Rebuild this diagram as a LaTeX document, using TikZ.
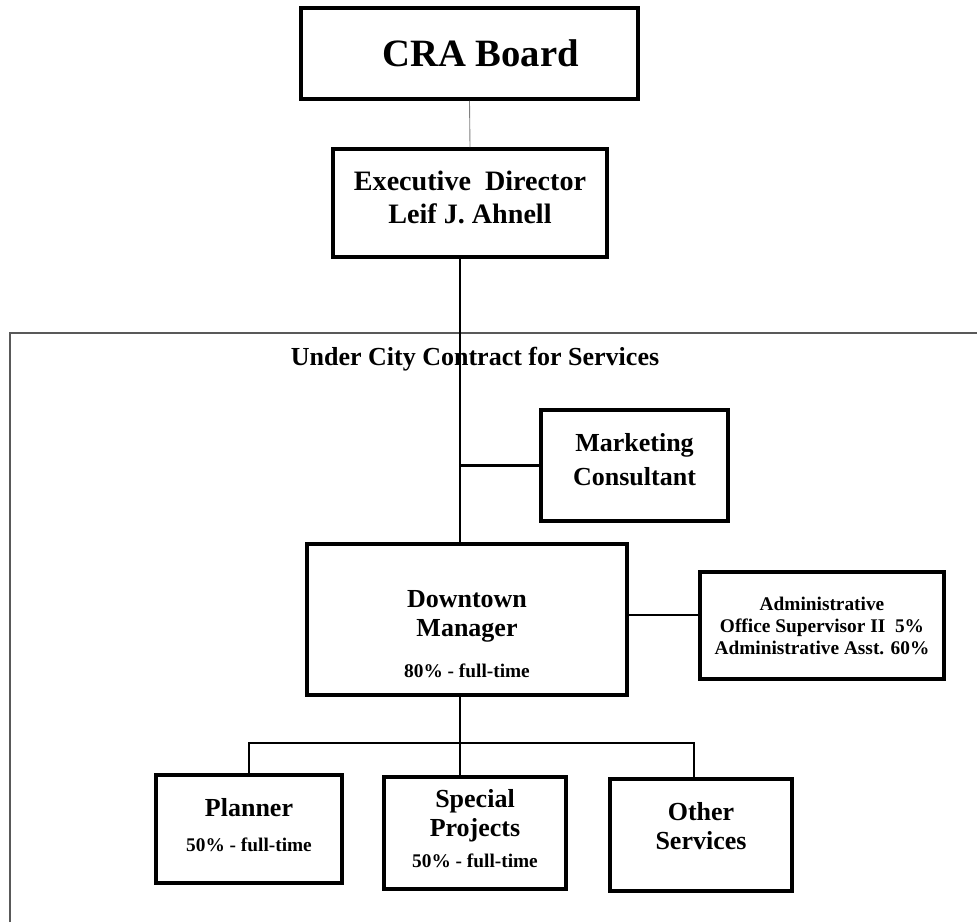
\documentclass[tikz,border=0pt]{standalone}
\usepackage{fontspec}
\setmainfont{Liberation Serif}
\usepackage{tikz}
\usetikzlibrary{positioning, calc}

\newcommand{\share}[1]{{\fontsize{11}{12.5}\selectfont #1}}

\tikzset{
  orgbox/.style={draw, line width=2pt, align=center, inner sep=0pt, font=\fontsize{14.8}{16.5}\selectfont\bfseries},
  link/.style={line width=1.2pt},
}

\begin{document}
\begin{tikzpicture}
  \useasboundingbox (0,0) rectangle (19.54,-18.44);

  % Board and director
  \node[orgbox, minimum width=6.74cm, minimum height=1.82cm, font=\fontsize{22}{24}\selectfont\bfseries] (board) at (9.39,-1.07) {\hspace{0.45cm}CRA Board};
  \node[orgbox, minimum width=5.48cm, minimum height=2.16cm, font=\fontsize{16}{18.8}\selectfont\bfseries] (exec) at (9.40,-4.06) {Executive\ \ Director\\Leif J. Ahnell\\[-12pt]\mbox{}};
  \draw[gray, line width=0.5pt] (board.south) -- (exec.north);

  % City contract frame
  \draw[gray!70!black, line width=0.7pt] (0.2,-18.44) -- (0.2,-6.66) -- (19.54,-6.66);
  \node[font=\fontsize{14.8}{16.5}\selectfont\bfseries] (contract) at (9.5,-7.18) {Under City Contract for Services};
  \coordinate (trunk) at (9.2,-6.66);

  % Staff
  \node[orgbox, minimum width=3.74cm, minimum height=2.22cm] (mkt) at (12.69,-9.31) {Marketing\\[3pt]Consultant\\[-10pt]\mbox{}};
  \node[orgbox, minimum width=6.40cm, minimum height=3.02cm] (dm) at (9.34,-12.39) {\mbox{}\\[9.5pt]Downtown\\Manager\\[7pt]\share{80\% - full-time}};
  \node[orgbox, minimum width=4.88cm, minimum height=2.14cm, font=\fontsize{11}{12.5}\selectfont\bfseries] (admin) at (16.44,-12.51) {Administrative\\Office Supervisor II\ \ 5\%\\Administrative Asst. 60\%};

  \draw[link] (exec.south -| trunk) -- (dm.north -| trunk);
  \draw[link] (mkt.west -| trunk) -- (mkt.west);
  \draw[link] ($(dm.east)+(0,0.09)$) -- ($(dm.east -| admin.west)+(0,0.09)$);

  % Services
  \node[orgbox, minimum width=3.72cm, minimum height=2.16cm] (planner) at (4.98,-16.58) {Planner\\[3pt]\share{50\% - full-time}\\[-12pt]\mbox{}};
  \node[orgbox, minimum width=3.64cm, minimum height=2.24cm] (special) at (9.50,-16.66) {Special\\Projects\\[1pt]\share{50\% - full-time}\\[-11pt]\mbox{}};
  \node[orgbox, minimum width=3.64cm, minimum height=2.24cm] (other) at (14.02,-16.70) {Other\\Services\\[-6pt]\mbox{}};
  \coordinate (bar) at (9.2,-14.86);

  \draw[link] (dm.south -| trunk) -- (special.north -| trunk);
  \draw[link] (planner.north) |- (bar) -| ([xshift=-0.14cm]other.north);
\end{tikzpicture}
\end{document}
